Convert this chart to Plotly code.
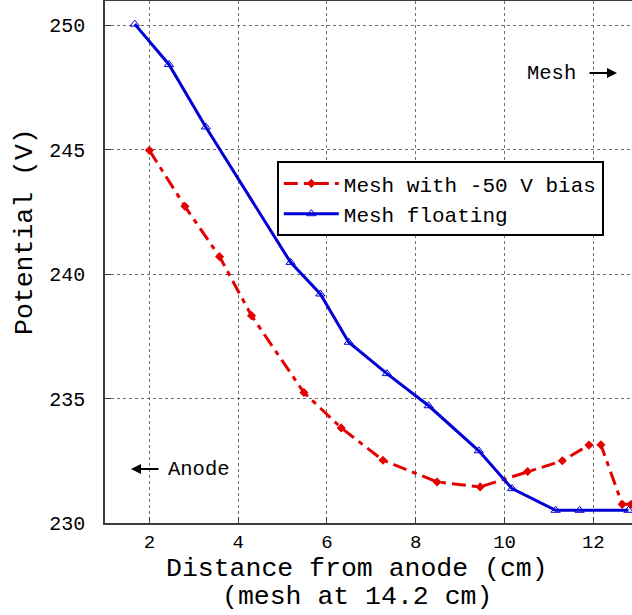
import plotly.graph_objects as go

# Data
bias_x = [2.0, 2.8, 3.58, 4.3, 5.48, 6.32, 7.26, 8.48, 9.45, 10.52, 11.3, 11.9, 12.17, 12.65, 12.85]
bias_y = [244.97, 242.72, 240.7, 238.33, 235.24, 233.82, 232.52, 231.65, 231.45, 232.07, 232.5, 233.13, 233.14, 230.75, 230.75]

float_x = [1.67, 2.44, 3.27, 5.18, 5.85, 6.49, 7.35, 8.29, 9.42, 10.17, 11.15, 11.69, 12.79]
float_y = [250.04, 248.42, 245.91, 240.47, 239.2, 237.26, 236.0, 234.71, 232.9, 231.38, 230.51, 230.51, 230.51]

x_ticks = [2, 4, 6, 8, 10, 12]
y_ticks = [230, 235, 240, 245, 250]

FONT = "Liberation Mono, Courier New, monospace"
RED = "rgb(228,0,0)"
BLUE = "rgb(0,0,215)"

fig = go.Figure()
fig.add_trace(go.Scatter(
    x=bias_x, y=bias_y, mode="lines+markers", name="Mesh with -50 V bias",
    line=dict(color=RED, width=3, dash="14px,6px,5px,6px"),
    marker=dict(symbol="diamond", size=7, color=RED),
))
fig.add_trace(go.Scatter(
    x=float_x, y=float_y, mode="lines+markers", name="Mesh floating",
    line=dict(color=BLUE, width=3),
    marker=dict(symbol="triangle-up-open", size=8, color=BLUE, line=dict(width=1, color=BLUE)),
))

axis_common = dict(
    showgrid=True, gridcolor="rgb(110,110,110)", griddash="dot", gridwidth=1,
    showline=True, linecolor="rgb(60,60,60)", linewidth=1.5,
    ticks="inside", ticklen=6, tickcolor="rgb(60,60,60)",
    zeroline=False,
)

fig.update_xaxes(range=[1.0, 12.87], tickvals=x_ticks, mirror=True,
                 tickfont=dict(family=FONT, size=19, color="black"), **axis_common)
fig.update_yaxes(range=[230, 250.97], tickvals=y_ticks, mirror=False, ticklabelstandoff=14,
                 tickfont=dict(family=FONT, size=20, color="black"), **axis_common)

fig.update_layout(
    width=632, height=615,
    margin=dict(l=105, r=0, t=1, b=92),
    plot_bgcolor="white", paper_bgcolor="white",
    font=dict(family=FONT, color="black"),
    showlegend=True,
    legend=dict(
        x=0.326, y=0.693, xanchor="left", yanchor="top",
        bgcolor="white", bordercolor="black", borderwidth=2,
        font=dict(family=FONT, size=21),
        itemwidth=55,
        tracegroupgap=0,
    ),
)

W0, W1 = 105, 632
H0, H1 = 1, 523
def px(xp):
    return (xp - W0) / (W1 - W0)
def py(yp):
    return 1 - (yp - H0) / (H1 - H0)

def label(text, xp, yp, size, angle=0):
    fig.add_annotation(text=text, x=px(xp), y=py(yp), xref="paper", yref="paper",
                       showarrow=False, textangle=angle, xanchor="center", yanchor="middle",
                       font=dict(family=FONT, size=size, color="black"))

def arrow(head_x, tail_x, yp):
    fig.add_annotation(text="", x=px(head_x), y=py(yp), xref="paper", yref="paper",
                       showarrow=True, ax=tail_x - head_x, ay=0, arrowhead=2, arrowsize=1,
                       arrowwidth=2, arrowcolor="black")

# Axis titles
label("Distance from anode (cm)", 357, 569, 26.5)
label("(mesh at 14.2 cm)", 357, 597, 26.5)
label("Potential (V)", 25, 232, 26.5, angle=-90)

# Mesh / Anode labels with arrows
label("Mesh", 551, 73, 20.5)
arrow(617, 588, 73)
label("Anode", 199, 469, 20.5)
arrow(131, 160, 469)

fig.write_html("out.html", config={"displayModeBar": False},
               post_script="document.body.style.margin='0px';document.body.style.overflow='hidden';")
